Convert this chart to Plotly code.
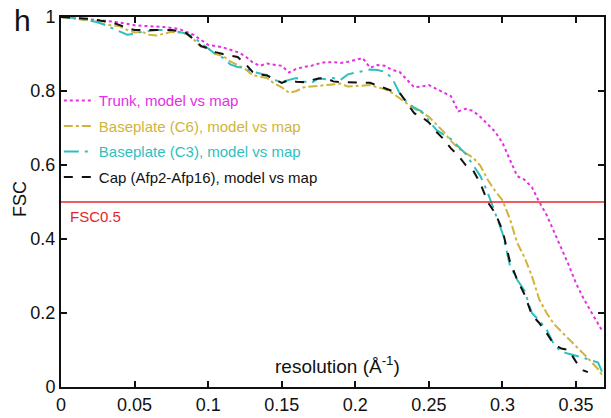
import plotly.graph_objects as go

# ---- data ----
trunk_x = [0, 0.01, 0.02, 0.03, 0.04, 0.05, 0.06, 0.07, 0.08, 0.09, 0.1, 0.11, 0.12, 0.125, 0.13, 0.135,
           0.14, 0.145, 0.15, 0.155, 0.16, 0.165, 0.17, 0.175, 0.18, 0.185, 0.19, 0.195, 0.2, 0.205, 0.21,
           0.215, 0.22, 0.225, 0.23, 0.235, 0.24, 0.245, 0.25, 0.255, 0.26, 0.265, 0.27, 0.275, 0.28, 0.285,
           0.29, 0.295, 0.3, 0.305, 0.31, 0.315, 0.32, 0.325, 0.33, 0.335, 0.34, 0.345, 0.35, 0.355, 0.36,
           0.365, 0.368]
trunk_y = [1.0, 0.997, 0.995, 0.99, 0.985, 0.978, 0.975, 0.973, 0.968, 0.952, 0.925, 0.918, 0.905, 0.895,
           0.878, 0.868, 0.874, 0.872, 0.868, 0.85, 0.86, 0.865, 0.868, 0.874, 0.878, 0.878, 0.876, 0.879,
           0.884, 0.889, 0.863, 0.87, 0.868, 0.857, 0.852, 0.83, 0.81, 0.812, 0.816, 0.806, 0.797, 0.786,
           0.745, 0.752, 0.746, 0.73, 0.71, 0.69, 0.66, 0.615, 0.57, 0.56, 0.54, 0.5, 0.465, 0.42, 0.375,
           0.33, 0.28, 0.24, 0.205, 0.17, 0.15]

c6_x = [0, 0.01, 0.02, 0.03, 0.04, 0.045, 0.05, 0.055, 0.06, 0.065, 0.07, 0.075, 0.08, 0.085, 0.09, 0.095,
        0.1, 0.105, 0.11, 0.115, 0.12, 0.125, 0.13, 0.135, 0.14, 0.145, 0.15, 0.155, 0.16, 0.165, 0.17, 0.175,
        0.18, 0.185, 0.19, 0.195, 0.2, 0.205, 0.21, 0.215, 0.22, 0.225, 0.23, 0.235, 0.24, 0.245, 0.25, 0.255,
        0.26, 0.265, 0.27, 0.275, 0.28, 0.285, 0.29, 0.295, 0.3, 0.305, 0.31, 0.315, 0.32, 0.325, 0.33, 0.335,
        0.34, 0.345, 0.35, 0.355, 0.36, 0.365, 0.368]
c6_y = [1.0, 0.996, 0.99, 0.98, 0.975, 0.965, 0.958, 0.96, 0.952, 0.95, 0.956, 0.96, 0.958, 0.955, 0.94,
        0.92, 0.915, 0.9, 0.895, 0.88, 0.87, 0.86, 0.843, 0.838, 0.835, 0.82, 0.81, 0.795, 0.8, 0.81, 0.811,
        0.814, 0.816, 0.818, 0.82, 0.812, 0.814, 0.816, 0.816, 0.81, 0.805, 0.795, 0.78, 0.765, 0.752, 0.742,
        0.73, 0.71, 0.69, 0.665, 0.645, 0.632, 0.62, 0.598, 0.56, 0.53, 0.505, 0.455, 0.39, 0.35, 0.3, 0.237,
        0.2, 0.17, 0.15, 0.13, 0.11, 0.092, 0.07, 0.048, 0.03]

c3_x = [0, 0.01, 0.02, 0.025, 0.03, 0.035, 0.04, 0.045, 0.05, 0.055, 0.06, 0.065, 0.07, 0.075, 0.08, 0.085,
        0.09, 0.095, 0.1, 0.105, 0.11, 0.115, 0.12, 0.125, 0.13, 0.135, 0.14, 0.145, 0.15, 0.155, 0.16, 0.165,
        0.17, 0.175, 0.18, 0.185, 0.19, 0.195, 0.2, 0.205, 0.21, 0.215, 0.22, 0.225, 0.23, 0.235, 0.24, 0.245,
        0.25, 0.255, 0.26, 0.265, 0.27, 0.275, 0.28, 0.285, 0.29, 0.295, 0.3, 0.305, 0.31, 0.315, 0.32, 0.325,
        0.33, 0.335, 0.34, 0.345, 0.35, 0.355, 0.36, 0.365, 0.368]
c3_y = [1.0, 0.997, 0.99, 0.986, 0.978, 0.97, 0.962, 0.952, 0.955, 0.96, 0.962, 0.965, 0.965, 0.963, 0.96,
        0.955, 0.946, 0.93, 0.915, 0.9, 0.89, 0.872, 0.865, 0.862, 0.852, 0.848, 0.843, 0.83, 0.824, 0.83,
        0.835, 0.826, 0.822, 0.834, 0.832, 0.835, 0.83, 0.845, 0.85, 0.855, 0.858, 0.857, 0.852, 0.835, 0.795,
        0.77, 0.755, 0.745, 0.72, 0.695, 0.682, 0.67, 0.65, 0.63, 0.6, 0.57, 0.525, 0.47, 0.416, 0.33, 0.29,
        0.26, 0.2, 0.18, 0.155, 0.115, 0.095, 0.09, 0.085, 0.079, 0.073, 0.066, 0.038]

cap_x = [0, 0.01, 0.02, 0.03, 0.035, 0.04, 0.045, 0.05, 0.055, 0.06, 0.065, 0.07, 0.075, 0.08, 0.085, 0.09,
         0.095, 0.1, 0.105, 0.11, 0.115, 0.12, 0.125, 0.13, 0.135, 0.14, 0.145, 0.15, 0.155, 0.16, 0.165, 0.17,
         0.175, 0.18, 0.185, 0.19, 0.195, 0.2, 0.205, 0.21, 0.215, 0.22, 0.225, 0.23, 0.235, 0.24, 0.245, 0.25,
         0.255, 0.26, 0.265, 0.27, 0.275, 0.28, 0.285, 0.29, 0.295, 0.3, 0.305, 0.31, 0.315, 0.32, 0.325, 0.33,
         0.335, 0.34, 0.345, 0.35, 0.355, 0.358]
cap_y = [1.0, 0.998, 0.995, 0.988, 0.985, 0.978, 0.97, 0.965, 0.966, 0.965, 0.965, 0.966, 0.965, 0.962,
         0.957, 0.94, 0.922, 0.915, 0.905, 0.9, 0.896, 0.892, 0.875, 0.852, 0.845, 0.842, 0.832, 0.822, 0.83,
         0.825, 0.824, 0.83, 0.834, 0.835, 0.826, 0.824, 0.824, 0.823, 0.822, 0.822, 0.815, 0.808, 0.8, 0.796,
         0.768, 0.74, 0.73, 0.715, 0.69, 0.67, 0.645, 0.625, 0.6, 0.586, 0.55, 0.5, 0.47, 0.424, 0.34, 0.29,
         0.25, 0.195, 0.173, 0.146, 0.115, 0.104, 0.1, 0.068, 0.045, 0.04]

series_names = ["Trunk, model vs map", "Baseplate (C6), model vs map",
                "Baseplate (C3), model vs map", "Cap (Afp2-Afp16), model vs map"]
series_colors = ["#e52fe5", "#d1b43a", "#2fbfbf", "#111111"]
series_dash = ["dot", "dashdot", "longdashdot", "dash"]

x_ticks = [0, 0.05, 0.1, 0.15, 0.2, 0.25, 0.3, 0.35]
x_tick_text = ["0", "0.05", "0.1", "0.15", "0.2", "0.25", "0.3", "0.35"]
y_ticks = [0, 0.2, 0.4, 0.6, 0.8, 1.0]
y_tick_text = ["0", "0.2", "0.4", "0.6", "0.8", "1"]
threshold = 0.5

FONT = "Liberation Sans, Arial, sans-serif"

fig = go.Figure()
for i, (xs, ys, name, col, dash) in enumerate(zip([trunk_x, c6_x, c3_x, cap_x],
                                                   [trunk_y, c6_y, c3_y, cap_y],
                                                   series_names, series_colors, series_dash)):
    fig.add_trace(go.Scatter(x=xs, y=ys, mode="lines",
                             name=f"<span style='color:{col}'>{name}</span>",
                             legendgroup=f"g{i}",
                             line=dict(color=col, width=2, dash=dash)))

fig.add_hline(y=threshold, line=dict(color="#e8262a", width=1.5))
fig.add_annotation(x=0.0, y=threshold, xref="x", yref="y", text="FSC0.5", showarrow=False,
                   xanchor="left", yanchor="top", xshift=7, yshift=-4,
                   font=dict(family=FONT, size=15, color="#e8262a"))
fig.add_annotation(x=0.5, y=0.0, xref="paper", yref="paper", text="resolution (Å<sup>-1</sup>)",
                   showarrow=False, xanchor="center", yanchor="bottom", xshift=5, yshift=8,
                   font=dict(family=FONT, size=19, color="#111"))
fig.add_annotation(x=0, y=1, xref="paper", yref="paper", text="h", showarrow=False,
                   xanchor="center", yanchor="middle", xshift=-39, yshift=-3,
                   font=dict(family=FONT, size=30, color="#111"))
fig.add_annotation(x=0, y=0.5, xref="paper", yref="paper", text="FSC", showarrow=False,
                   textangle=-90, xanchor="center", yanchor="middle", xshift=-41, yshift=3,
                   font=dict(family=FONT, size=18, color="#111"))

axis_common = dict(showline=True, linecolor="#111", linewidth=2, mirror="ticks", ticks="inside",
                   ticklen=6, tickwidth=2, tickcolor="#111", showgrid=False, zeroline=False,
                   automargin=False, tickfont=dict(family=FONT, size=18, color="#111"))

fig.update_xaxes(range=[0, 0.369], tickvals=x_ticks, ticktext=x_tick_text, **axis_common)
fig.update_yaxes(range=[0, 1], tickvals=y_ticks, ticktext=y_tick_text, **axis_common)

fig.update_layout(
    width=611, height=418,
    margin=dict(l=61, r=7, t=17, b=31, autoexpand=False),
    paper_bgcolor="white", plot_bgcolor="white",
    showlegend=True,
    legend=dict(x=-0.004, y=0.818, xanchor="left", yanchor="top", bgcolor="rgba(0,0,0,0)",
                font=dict(family=FONT, size=15), itemwidth=30, tracegroupgap=3),
)

fig.write_html("out.html", config={"displayModeBar": False},
               post_script="document.body.style.margin='0';")
